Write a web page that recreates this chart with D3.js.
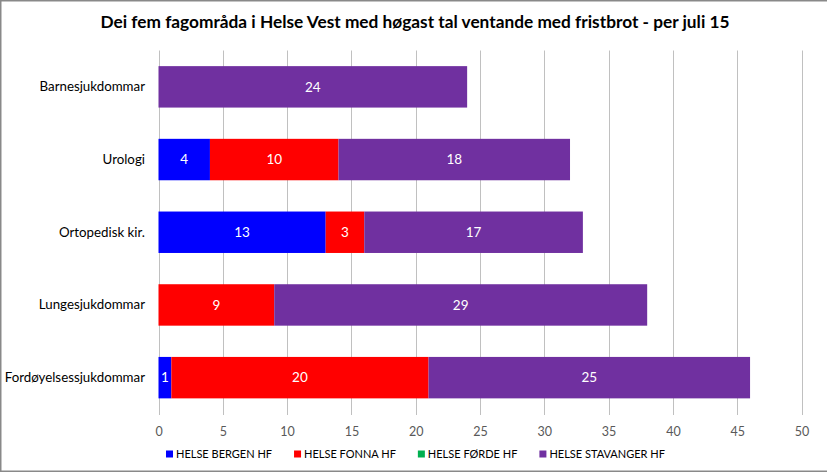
<!DOCTYPE html>
<html><head><meta charset="utf-8">
<script src="https://cdn.jsdelivr.net/npm/d3@7"></script>
<style>
html,body{margin:0;padding:0;background:#fff;}
svg{display:block;font-family:Lato,"Open Sans",sans-serif;}
</style></head>
<body>
<svg id="chart" width="827" height="473"></svg>
<script>
const title = "Dei fem fagområda i Helse Vest med høgast tal ventande med fristbrot - per juli 15";
const categories = ["Barnesjukdommar","Urologi","Ortopedisk kir.","Lungesjukdommar","Fordøyelsessjukdommar"];
const seriesNames = ["HELSE BERGEN HF","HELSE FONNA HF","HELSE FØRDE HF","HELSE STAVANGER HF"];
const seriesColors = ["#0000ff","#ff0000","#00b050","#7030a0"];
const bergen =    [0, 4, 13, 0, 1];
const fonna =     [0, 10, 3, 9, 20];
const forde =     [0, 0, 0, 0, 0];
const stavanger = [24, 18, 17, 29, 25];
const xTicks = [0,5,10,15,20,25,30,35,40,45,50];

(function(){
const seriesValues = [bergen, fonna, forde, stavanger];
const rows = categories.map((c,i)=>{
  const r = {cat:c};
  seriesNames.forEach((s,j)=> r[s]=seriesValues[j][i]);
  return r;
});
const stack = d3.stack().keys(seriesNames)(rows);

const svg = d3.select("#chart");
const W=827,H=473;
const pLeft=158.5, pRight=801.5, pTop=50.5, pBottom=414;

// frame
svg.append("rect").attr("x",0.75).attr("y",0.75).attr("width",W+5).attr("height",H-2.5)
  .attr("fill","none").attr("stroke","#898989").attr("stroke-width",1.5);

const tt = svg.append("text").attr("x",415).attr("y",28).attr("text-anchor","middle")
  .attr("font-weight","bold").attr("font-size",17).attr("fill","#000").text(title);
// fit title to reference width
const tw = tt.node().getComputedTextLength();
tt.attr("textLength",629).attr("lengthAdjust","spacingAndGlyphs");

const x = d3.scaleLinear().domain([0,50]).range([pLeft,pRight]);
const y = d3.scaleBand().domain(categories).range([pTop,pBottom]).paddingInner(0.43).paddingOuter(0.215);

// gridlines
svg.append("g").selectAll("line").data(xTicks).join("line")
  .attr("x1",d=>Math.round(x(d))+0.5).attr("x2",d=>Math.round(x(d))+0.5)
  .attr("y1",pTop).attr("y2",pBottom+1)
  .attr("stroke","#c0c0c0").attr("stroke-width",1);

// axis labels
const xAxis = d3.axisBottom(x).tickValues(xTicks).tickSize(0).tickPadding(0);
const ag = svg.append("g").attr("transform",`translate(0,${pBottom})`).call(xAxis);
ag.select(".domain").remove();
ag.selectAll("text").attr("y",18).attr("dy","0.35em").attr("font-size",12.5).attr("fill","#595959").attr("font-family","Lato, sans-serif");

// bars
const g = svg.append("g");
stack.forEach((layer,j)=>{
  g.append("g").selectAll("rect").data(layer).join("rect")
    .attr("x",d=>x(d[0])).attr("width",d=>x(d[1])-x(d[0]))
    .attr("y",d=>y(d.data.cat)).attr("height",y.bandwidth())
    .attr("fill",seriesColors[j]);
  g.append("g").selectAll("text").data(layer.filter(d=>d[1]-d[0]>0)).join("text")
    .attr("x",d=>(x(d[0])+x(d[1]))/2).attr("y",d=>y(d.data.cat)+y.bandwidth()/2)
    .attr("dy","0.35em").attr("text-anchor","middle").attr("font-size",13.5)
    .attr("fill","#fff").text(d=>d[1]-d[0]);
});

// category labels
const yAxis = d3.axisLeft(y).tickSize(0).tickPadding(0);
const yg = svg.append("g").attr("transform",`translate(145,0)`).call(yAxis);
yg.select(".domain").remove();
yg.selectAll("text").attr("font-size",13.3).attr("fill","#000").attr("font-family","Lato, sans-serif");

// legend
const lg = svg.append("g");
let lx = 166;
const ly = 454;
seriesNames.forEach((s,j)=>{
  lg.append("rect").attr("x",lx).attr("y",ly-3.5).attr("width",7).attr("height",7).attr("fill",seriesColors[j]);
  const t = lg.append("text").attr("x",lx+10).attr("y",ly).attr("dy","0.36em")
    .attr("font-size",11).attr("fill","#000").text(s);
  const w = t.node().getComputedTextLength();
  lx = lx + 10 + w + 22;
});
})();
</script>
</body></html>
